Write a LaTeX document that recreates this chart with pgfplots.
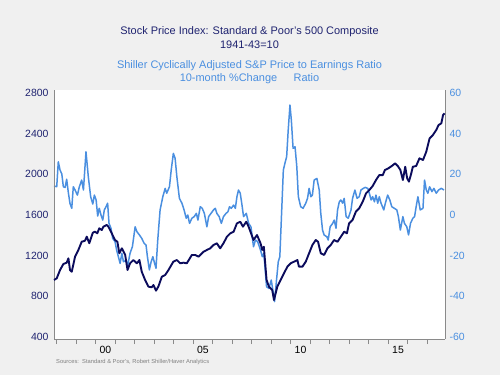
\documentclass[border=0pt]{standalone}
\usepackage{pgfplots}
\pgfplotsset{compat=1.18}
\usepackage{pgfplotstable}
\usepackage{fontspec}
\setmainfont{Liberation Sans}
\definecolor{bg}{HTML}{F0F0F0}
\definecolor{navyline}{HTML}{0B0B5C}
\definecolor{navytext}{HTML}{1F2370}
\definecolor{lblue}{HTML}{4A8FE0}
\definecolor{axgray}{HTML}{8A8A8A}

\pgfplotstableread{
x y
1997.86 961
1998.00 977
1998.17 1059
1998.34 1118
1998.51 1131
1998.60 1174
1998.68 1059
1998.77 1042
1998.94 1190
1999.11 1256
1999.28 1337
1999.45 1347
1999.54 1387
1999.67 1322
1999.85 1426
1999.96 1436
2000.08 1420
2000.18 1469
2000.31 1452
2000.39 1485
2000.56 1502
2000.65 1485
2000.82 1420
2000.99 1354
2001.11 1337
2001.21 1223
2001.34 1272
2001.51 1207
2001.63 1059
2001.76 1125
2001.93 1157
2002.11 1125
2002.24 1157
2002.36 1042
2002.53 961
2002.70 895
2002.87 889
2002.96 911
2003.09 856
2003.21 895
2003.39 993
2003.56 1010
2003.73 1059
2003.98 1141
2004.16 1157
2004.33 1125
2004.50 1131
2004.67 1125
2004.93 1207
2005.10 1207
2005.27 1190
2005.53 1239
2005.70 1256
2005.87 1272
2006.04 1305
2006.21 1322
2006.38 1272
2006.55 1322
2006.73 1387
2006.90 1420
2007.07 1436
2007.24 1518
2007.41 1534
2007.55 1485
2007.72 1534
2007.84 1485
2008.09 1354
2008.27 1403
2008.45 1322
2008.54 1256
2008.62 1288
2008.76 961
2008.88 895
2009.05 862
2009.14 764
2009.31 895
2009.48 961
2009.65 1026
2009.83 1092
2010.00 1125
2010.17 1141
2010.34 1157
2010.42 1092
2010.60 1092
2010.77 1141
2010.94 1223
2011.11 1305
2011.28 1354
2011.40 1337
2011.54 1223
2011.71 1207
2011.88 1272
2012.05 1305
2012.22 1354
2012.40 1337
2012.57 1387
2012.74 1436
2012.88 1420
2012.99 1518
2013.17 1551
2013.34 1633
2013.51 1666
2013.69 1731
2013.86 1813
2014.03 1846
2014.20 1885
2014.37 1944
2014.54 1993
2014.72 1993
2014.83 2043
2015.00 2059
2015.18 2082
2015.35 2108
2015.49 2082
2015.62 2043
2015.75 1944
2015.87 2075
2015.97 1961
2016.06 1928
2016.18 2010
2016.26 2075
2016.43 2082
2016.60 2158
2016.78 2141
2016.95 2223
2017.12 2354
2017.29 2387
2017.46 2436
2017.58 2485
2017.72 2502
2017.81 2584
2017.89 2600
}\spx

\pgfplotstableread{
x y
1997.86 14.3
1998.00 13.9
1998.08 26.2
1998.17 22.1
1998.26 20.2
1998.34 13.9
1998.43 13.6
1998.51 17.6
1998.60 10.7
1998.68 5.7
1998.77 3.3
1998.85 13.9
1998.94 12.3
1999.06 9.8
1999.16 13.9
1999.28 17.2
1999.37 12.3
1999.50 31.1
1999.62 18.8
1999.74 9.0
1999.85 5.4
1999.93 9.8
2000.02 7.4
2000.10 -0.5
2000.18 3.3
2000.27 0.0
2000.36 -2.5
2000.44 2.5
2000.53 4.1
2000.61 5.8
2000.68 -4.1
2000.78 -6.5
2000.87 -11.5
2000.99 -13.1
2001.07 -17.2
2001.16 -20.5
2001.25 -23.8
2001.34 -18.8
2001.42 -23.0
2001.56 -22.2
2001.63 -25.4
2001.76 -18.8
2001.88 -15.6
2002.02 -5.8
2002.11 -8.2
2002.24 -9.8
2002.36 -11.5
2002.48 -13.9
2002.58 -14.8
2002.65 -20.5
2002.75 -27.0
2002.84 -23.0
2002.93 -20.5
2003.01 -23.5
2003.09 -26.2
2003.18 -12.3
2003.30 2.5
2003.44 9.0
2003.56 13.1
2003.64 10.7
2003.78 13.9
2003.87 22.1
2003.98 30.3
2004.07 27.9
2004.16 18.8
2004.29 8.2
2004.42 5.8
2004.53 2.5
2004.64 -1.6
2004.72 0.0
2004.81 -4.1
2004.93 -1.6
2005.05 -0.8
2005.16 0.8
2005.24 -2.5
2005.36 4.1
2005.46 3.3
2005.57 0.8
2005.70 -5.8
2005.79 -0.8
2005.91 0.8
2006.04 2.5
2006.13 3.3
2006.21 0.8
2006.33 -0.8
2006.44 -4.1
2006.55 -0.8
2006.68 0.8
2006.78 1.6
2006.86 4.1
2006.95 3.3
2007.07 4.9
2007.16 3.3
2007.24 9.0
2007.32 12.3
2007.41 10.7
2007.50 4.9
2007.58 -0.8
2007.72 0.8
2007.84 -4.1
2007.96 -5.8
2008.09 -15.6
2008.19 -12.3
2008.30 -13.1
2008.45 -17.2
2008.54 -20.5
2008.62 -18.8
2008.76 -35.3
2008.88 -36.1
2009.00 -32.0
2009.08 -36.9
2009.17 -42.6
2009.27 -32.0
2009.36 -23.0
2009.44 -20.5
2009.53 0.8
2009.62 22.1
2009.70 25.4
2009.79 28.7
2009.87 41.8
2009.96 54.1
2010.03 46.7
2010.12 32.8
2010.22 33.6
2010.31 23.8
2010.39 9.0
2010.51 4.1
2010.63 3.3
2010.77 5.8
2010.86 8.2
2010.94 13.1
2011.03 9.0
2011.11 9.8
2011.20 17.2
2011.34 18.0
2011.46 12.3
2011.54 0.8
2011.63 -7.4
2011.71 -9.8
2011.85 -10.7
2011.92 -12.3
2012.02 -5.8
2012.15 -4.1
2012.23 -2.5
2012.32 -6.5
2012.40 2.5
2012.49 6.5
2012.57 7.4
2012.66 5.8
2012.74 8.2
2012.84 -0.8
2012.95 -1.6
2013.09 2.5
2013.17 8.2
2013.29 12.3
2013.40 8.2
2013.51 9.0
2013.60 12.3
2013.72 13.1
2013.82 13.6
2013.95 13.1
2014.03 10.7
2014.12 7.4
2014.20 9.0
2014.29 6.5
2014.37 9.8
2014.46 5.8
2014.54 9.0
2014.63 5.8
2014.77 2.5
2014.85 5.8
2014.97 9.8
2015.08 7.4
2015.18 4.1
2015.31 3.3
2015.44 2.5
2015.52 -0.8
2015.62 -7.4
2015.75 -0.8
2015.83 -4.1
2015.95 -5.8
2016.04 -9.8
2016.14 -4.1
2016.26 -1.6
2016.35 -0.8
2016.43 4.1
2016.52 9.0
2016.64 2.5
2016.78 3.3
2016.86 17.2
2016.95 12.3
2017.03 10.7
2017.12 13.9
2017.24 11.5
2017.34 13.1
2017.46 10.7
2017.58 12.3
2017.72 13.1
2017.86 12.3
}\cape

\begin{document}
\begin{tikzpicture}[x=1bp,y=1bp]
\path[use as bounding box, fill=bg] (0,0) rectangle (500,375);
% titles
\node[text=navytext, font=\fontsize{11}{12}\selectfont] at (249.5,343) {Stock Price Index: Standard \& Poor's 500 Composite};
\node[text=navytext, font=\fontsize{11}{12}\selectfont] at (249.5,330) {1941-43=10};
\node[text=lblue, font=\fontsize{11}{12}\selectfont] at (249.5,309) {Shiller Cyclically Adjusted S\&P Price to Earnings Ratio};
\node[text=lblue, font=\fontsize{11}{12}\selectfont] at (249.5,296) {10-month \%Change\hspace{1.5em}Ratio};
\node[text=gray, font=\fontsize{5.8}{7}\selectfont, anchor=west, inner sep=1bp] at (55,13) {Sources:\ \ Standard \& Poor's, Robert Shiller/Haver Analytics};

% right axis (CAPE % change)
\begin{axis}[
  at={(54bp,36bp)}, anchor=south west,
  scale only axis, width=391bp, height=249bp,
  xmin=1997.86, xmax=2017.91,
  ymin=-61, ymax=61.5,
  axis y line*=right, axis x line=none,
  axis line style={axgray, line width=0.9pt},
  axis background/.style={fill=white},
  ytick={-60,-40,...,60},
  yticklabel style={text=lblue, font=\fontsize{10.5}{12}\selectfont, xshift=1bp},
  /pgf/number format/assume math mode=true,
  major tick length=0pt,
  clip=false,
]
\addplot[lblue, line width=1.5pt, line join=round] table[x=x,y=y] {\cape};
\end{axis}

% left axis (S&P 500)
\begin{axis}[
  at={(54bp,36bp)}, anchor=south west,
  scale only axis, width=391bp, height=249bp,
  xmin=1997.86, xmax=2017.91,
  ymin=380, ymax=2830,
  axis y line*=left, axis x line*=bottom,
  axis line style={axgray, line width=0.9pt},
  ytick={400,800,...,2800},
  yticklabel style={text=navytext, font=\fontsize{10.5}{12}\selectfont, xshift=-2bp},
  xtick={2000.5,2005.5,2010.5,2015.5},
  xticklabels={00,05,10,15},
  xticklabel style={text=black, font=\fontsize{10.5}{12}\selectfont, yshift=-6bp, inner sep=1bp},
  minor xtick={1998,...,2017},
  major tick length=0pt,
  minor tick length=5bp,
  tick align=outside,
  minor tick style={axgray, line width=0.8pt},
  /pgf/number format/assume math mode=true,
  /pgf/number format/1000 sep={},
  clip=false,
]
\addplot[navyline, line width=1.9pt, line join=round] table[x=x,y=y] {\spx};
\end{axis}
\end{tikzpicture}
\end{document}
